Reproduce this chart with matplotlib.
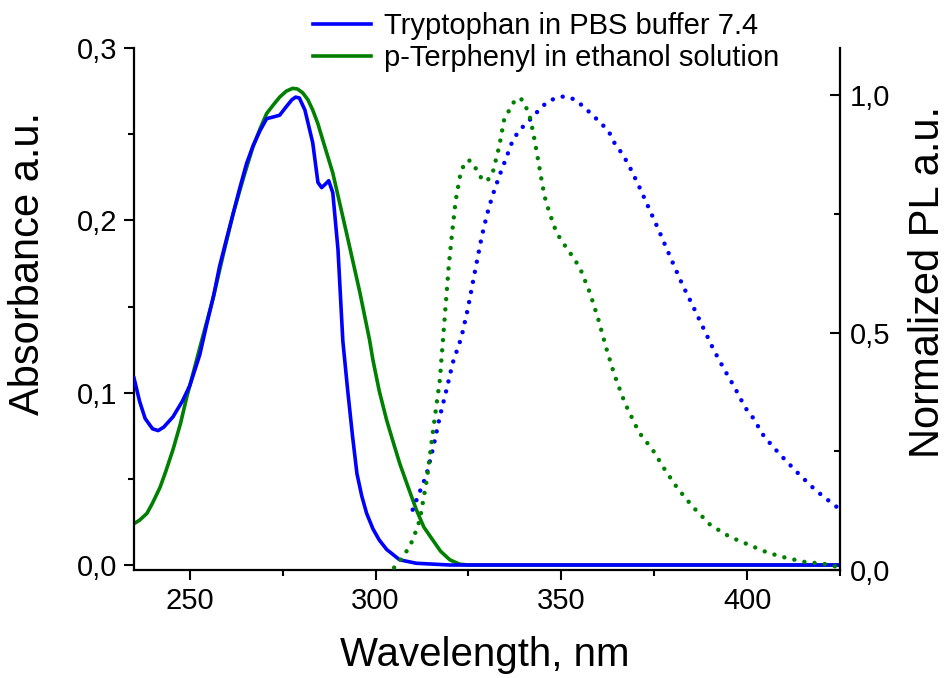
import matplotlib
matplotlib.use("Agg")
import matplotlib.pyplot as plt
from matplotlib.ticker import FuncFormatter, MultipleLocator

plt.rcParams['font.family'] = ['Liberation Sans', 'DejaVu Sans']

# ---- data ----
trp_abs_wl = [235, 236.5, 238, 240, 241.5, 243, 245.5, 248, 250, 252.7, 254.6, 256.5, 258, 260,
              261.7, 263.5, 265.3, 267, 268.9, 270.7, 272.5, 274.2, 276, 277.5, 278.5, 279.5,
              281, 283.1, 284.5, 285.5, 286.5, 287.4, 288.5, 289.9, 291.2, 292.5, 293.8, 295,
              296.3, 297.6, 299.3, 301, 303, 306.5, 311, 320, 340, 360, 380, 400, 425]
trp_abs = [0.1085, 0.095, 0.085, 0.079, 0.078, 0.080, 0.086, 0.095, 0.104, 0.122, 0.140, 0.157,
           0.173, 0.190, 0.204, 0.219, 0.233, 0.243, 0.252, 0.259, 0.260, 0.261, 0.266, 0.270,
           0.2715, 0.271, 0.264, 0.245, 0.222, 0.219, 0.221, 0.223, 0.216, 0.183, 0.130, 0.1015,
           0.075, 0.053, 0.040, 0.030, 0.021, 0.0145, 0.009, 0.003, 0.001, 0.0, 0.0, 0.0, 0.0,
           0.0, 0.0]

ter_abs_wl = [235, 236.5, 238.5, 240, 242, 243.5, 245.5, 247.5, 249.2, 251, 252.7, 256.2, 259,
              261.7, 264.5, 267, 268.9, 270.7, 272.5, 274.2, 276, 277.7, 279, 280.4, 281.8,
              283.1, 284.5, 285.8, 288.5, 292.2, 295.8, 298.4, 299.3, 301, 303, 304.8, 306.5,
              308.8, 311, 313, 315.4, 317.5, 320, 322.6, 325, 350, 400, 425]
ter_abs = [0.024, 0.026, 0.030, 0.036, 0.045, 0.054, 0.067, 0.082, 0.0975, 0.112, 0.126, 0.154,
           0.180, 0.204, 0.225, 0.2426, 0.253, 0.262, 0.267, 0.2715, 0.275, 0.2766, 0.2762,
           0.274, 0.270, 0.264, 0.256, 0.2466, 0.2275, 0.1926, 0.158, 0.1305, 0.119, 0.101,
           0.084, 0.071, 0.059, 0.045, 0.032, 0.022, 0.0145, 0.008, 0.003, 0.0005, 0.0, 0.0,
           0.0, 0.0]

trp_pl_wl = [310, 311.4, 313.7, 315.5, 317.3, 319.1, 320.8, 323.1, 324.8, 325.8, 327.2, 328.6,
             330, 331.4, 333.3, 335.2, 337, 338.9, 341.7, 343.6, 346, 348.3, 350.7, 353.5,
             355.9, 358.2, 361, 362.9, 364.3, 366.2, 367.6, 369, 371.3, 373.7, 376, 379.3,
             382.6, 385, 388.7, 391, 393.9, 396.7, 399.5, 401.4, 404.6, 408.9, 413.7, 418.3,
             423.4, 425]
trp_pl = [0.127, 0.155, 0.2, 0.257, 0.323, 0.38, 0.437, 0.49, 0.549, 0.59, 0.647, 0.703, 0.749,
          0.787, 0.83, 0.869, 0.907, 0.928, 0.95, 0.966, 0.985, 0.994, 0.998, 0.992, 0.977, 0.96,
          0.939, 0.922, 0.9, 0.879, 0.861, 0.84, 0.802, 0.76, 0.72, 0.66, 0.601, 0.563, 0.502,
          0.464, 0.422, 0.384, 0.342, 0.323, 0.281, 0.243, 0.204, 0.169, 0.137, 0.128]

ter_pl_wl = [305, 306, 307.3, 308.8, 310, 311.9, 313.8, 315.4, 317.3, 318.2, 319.7, 320.6, 321.6,
             322.9, 324.2, 325.2, 326.2, 327.7, 329.1, 330.2, 331.4, 333.3, 334.7, 336.1, 337.5,
             338.6, 339.6, 340.8, 341.7, 342.7, 343.6, 344.5, 345.5, 346.8, 348.7, 350.4, 352.1,
             353.8, 355.4, 357.7, 360, 362, 364.3, 367.1, 370.9, 374.6, 377.9, 381.2, 385.4,
             390.1, 395.3, 400.5, 405.7, 410.8, 415.5, 420.7, 423.5, 425]
ter_pl = [0.005, 0.015, 0.027, 0.045, 0.063, 0.105, 0.19, 0.289, 0.40, 0.49, 0.64, 0.71, 0.78,
          0.837, 0.861, 0.863, 0.858, 0.835, 0.819, 0.822, 0.833, 0.893, 0.953, 0.97, 0.99,
          0.995, 0.99, 0.97, 0.95, 0.91, 0.871, 0.83, 0.787, 0.753, 0.711, 0.69, 0.671, 0.652,
          0.629, 0.584, 0.527, 0.47, 0.411, 0.352, 0.29, 0.253, 0.211, 0.173, 0.133, 0.095,
          0.07, 0.053, 0.036, 0.025, 0.017, 0.013, 0.008, 0.006]

labels = ["Tryptophan in PBS buffer 7.4", "p-Terphenyl in ethanol solution"]
blue = '#0000ff'
green = '#008000'

W, H = 947, 678
fig = plt.figure(figsize=(W / 100, H / 100), dpi=100)
L, R, T, B = 134, 840, 48, 570
ax = fig.add_axes([L / W, 1 - B / H, (R - L) / W, (B - T) / H])
ax2 = ax.twinx()

l1, = ax.plot(trp_abs_wl, trp_abs, color=blue, lw=2.6, zorder=3)
l2, = ax.plot(ter_abs_wl, ter_abs, color=green, lw=2.6, zorder=2)
ax2.plot(trp_pl_wl, trp_pl, color=blue, lw=3.2, ls=(0, (0.01, 2.3)), dash_capstyle='round')
ax2.plot(ter_pl_wl, ter_pl, color=green, lw=3.2, ls=(0, (0.01, 2.3)), dash_capstyle='round')

ax.set_xlim(235, 425)
ax.set_ylim(-0.0029, 0.3)
ax2.set_ylim(0, 1.1)

comma = FuncFormatter(lambda v, p: f"{v:.1f}".replace('.', ','))
ax.yaxis.set_major_locator(MultipleLocator(0.1))
ax.yaxis.set_minor_locator(MultipleLocator(0.05))
ax.yaxis.set_major_formatter(comma)
ax.xaxis.set_major_locator(MultipleLocator(50))
ax.xaxis.set_minor_locator(MultipleLocator(25))
ax2.yaxis.set_major_locator(MultipleLocator(0.5))
ax2.yaxis.set_minor_locator(MultipleLocator(0.25))
ax2.yaxis.set_major_formatter(comma)

for a in (ax, ax2):
    a.spines['top'].set_visible(False)
    for s in a.spines.values():
        s.set_linewidth(1.6)
ax.spines['right'].set_visible(False)
ax2.spines['left'].set_visible(False)
ax2.spines['bottom'].set_visible(False)

ax.tick_params(axis='both', which='major', direction='out', length=7, width=1.5,
               labelsize=21, pad=5)
ax.tick_params(axis='both', which='minor', direction='out', length=4, width=1.5)
ax2.tick_params(axis='y', which='major', direction='in', length=7, width=1.5,
                labelsize=21, pad=7)
ax2.tick_params(axis='y', which='minor', direction='in', length=4, width=1.5)

fig.text(28 / W, 1 - 264 / H, "Absorbance a.u.", rotation=90, fontsize=30,
         ha='center', va='center')
fig.text(928 / W, 1 - 282 / H, "Normalized PL a.u.", rotation=90, fontsize=30,
         ha='center', va='center')
fig.text(485 / W, 1 - 655 / H, "Wavelength, nm", fontsize=29, ha='center', va='center')

fig.legend([l1, l2], labels, loc='upper left', bbox_to_anchor=(313 / W, 1 - 12 / H),
           frameon=False, fontsize=21, borderpad=0, borderaxespad=0, handlelength=2.0,
           handletextpad=0.45, labelspacing=0.15)

fig.savefig("out.png", dpi=100)
